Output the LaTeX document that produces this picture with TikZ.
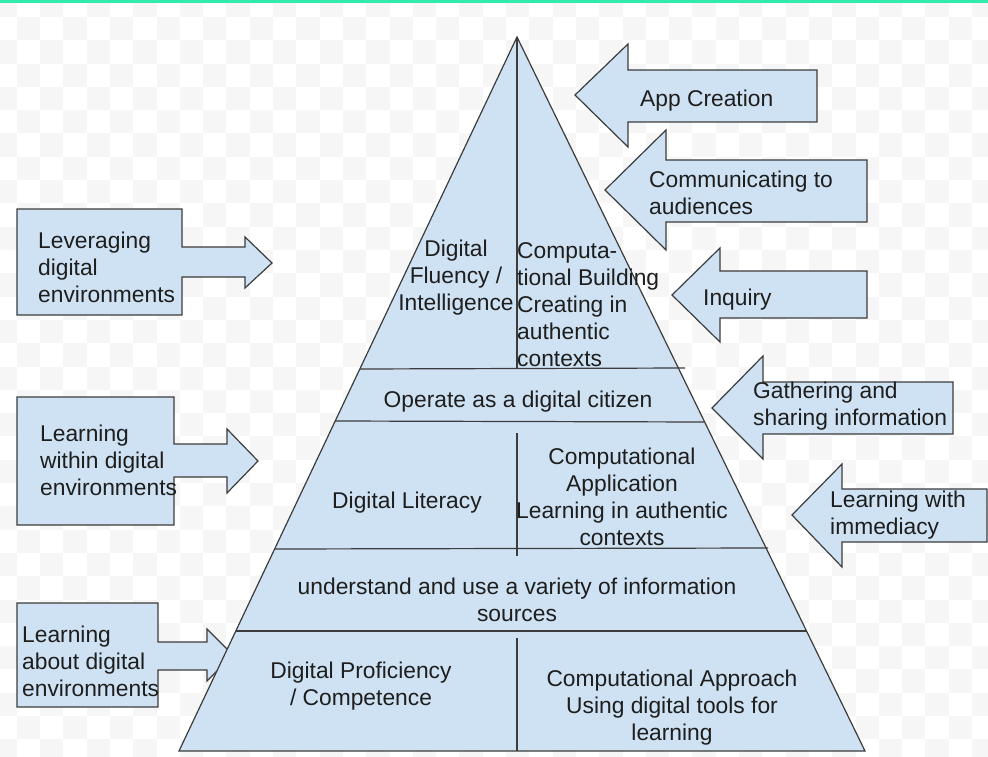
\documentclass[tikz,border=0pt]{standalone}
\usepackage{fontspec}
\setmainfont{Liberation Sans}
\definecolor{pblue}{RGB}{207,226,243}
\definecolor{edge}{RGB}{60,60,60}
\definecolor{ink}{RGB}{30,30,30}
\definecolor{mint}{RGB}{48,235,170}
\definecolor{checker}{RGB}{246,246,246}
\begin{document}
\begin{tikzpicture}[x=1pt,y=-1pt,
  blockshape/.style={fill=pblue, draw=edge, line width=1.2pt, line join=miter},
  lbl/.style={inner sep=0pt, text=ink, yshift=-2.5pt, font=\fontsize{22.8}{27}\selectfont},
  divider/.style={draw=edge, line width=1.2pt}]
\useasboundingbox (0,0) rectangle (988,757);
% checkered background
\begin{scope}
\clip (0,0) rectangle (988,757);
\foreach \i in {0,...,43}{
  \foreach \j in {0,...,33}{
    \pgfmathtruncatemacro\cpar{mod(\i+\j,2)}
    \ifnum\cpar=0
      \fill[checker] ({-6.6+23.3*\i},{-6.3+23.3*\j}) rectangle ++(23.3,23.3);
    \fi
  }
}
\end{scope}
\fill[mint] (0,0) rectangle (988,3);

% left arrows (drawn before the pyramid)
\draw[blockshape] (17,209) -- (182,209) -- (182,247) -- (245,247) -- (245,237) -- (272,263) -- (245,288) -- (245,277) -- (182,277) -- (182,315) -- (17,315) -- cycle;
\draw[blockshape] (17,397) -- (174,397) -- (174,444) -- (227,444) -- (227,429) -- (258,461) -- (227,493) -- (227,477) -- (174,477) -- (174,525) -- (17,525) -- cycle;
\draw[blockshape] (17,603) -- (158,603) -- (158,642) -- (207,642) -- (207,629) -- (233,655) -- (207,681) -- (207,670) -- (158,670) -- (158,707) -- (17,707) -- cycle;
\node[lbl, anchor=west, align=left] (leverage) at (38,265) {Leveraging\\digital\\environments};
\node[lbl, anchor=west, align=left] (within) at (40,458) {Learning\\within digital\\environments};
\node[lbl, anchor=west, align=left] (about) at (22,659) {Learning\\about digital\\environments};

% pyramid
\coordinate (apex) at (517,37);
\coordinate (bl) at (179,751);
\coordinate (br) at (865,751);
\draw[blockshape] (apex) -- (br) -- (bl) -- cycle;
\draw[divider] (360,369) -- (685,368);
\draw[divider] (335,421) -- (704,422);
\draw[divider] (275,549) -- (768,548);
\draw[divider] (236,631) -- (807,631);
\draw[divider] (apex) -- (517,369);
\draw[divider] (517,433) -- (517,556);
\draw[divider] (517,638) -- (517,751);

\node[lbl, align=center] (fluency) at (456,275) {Digital\\Fluency /\\Intelligence};
\node[lbl, anchor=west, align=left] (building) at (517,302.5) {Computa-\\tional Building\\Creating in\\authentic\\contexts};
\node[lbl] (citizen) at (518,399) {Operate as a digital citizen};
\node[lbl] (literacy) at (407,500) {Digital Literacy};
\node[lbl, align=center] (application) at (622,494.5) {Computational\\Application\\Learning in authentic\\contexts};
\node[lbl, align=center] (sources) at (517,597.5) {understand and use a variety of information\\sources};
\node[lbl, align=center] (proficiency) at (361,683.5) {Digital Proficiency\\/ Competence};
\node[lbl, align=center] (approach) at (672,705) {Computational Approach\\Using digital tools for\\learning};

% right arrows
\draw[blockshape] (575,95) -- (628,44) -- (628,70) -- (817,70) -- (817,122) -- (628,122) -- (628,147) -- cycle;
\draw[blockshape] (605,190) -- (666,130) -- (666,160) -- (867,160) -- (867,222) -- (666,222) -- (666,250) -- cycle;
\draw[blockshape] (672,295) -- (720,248) -- (720,271) -- (867,271) -- (867,318) -- (720,318) -- (720,342) -- cycle;
\draw[blockshape] (712,408) -- (763,356) -- (763,382) -- (953,382) -- (953,434) -- (763,434) -- (763,459) -- cycle;
\draw[blockshape] (792,515) -- (842,464) -- (842,489) -- (987,489) -- (987,542) -- (842,542) -- (842,567) -- cycle;
\node[lbl, anchor=west] (app) at (640,98) {App Creation};
\node[lbl, anchor=west, align=left] (comm) at (649,190) {Communicating to\\audiences};
\node[lbl, anchor=west] (inquiry) at (703,297) {Inquiry};
\node[lbl, anchor=west, align=left] (gather) at (753,404) {Gathering and\\sharing information};
\node[lbl, anchor=west, align=left] (immediacy) at (830,513) {Learning with\\immediacy};
\end{tikzpicture}
\end{document}
